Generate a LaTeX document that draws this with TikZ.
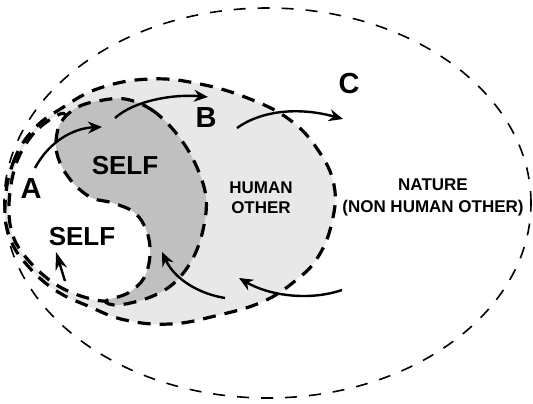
\documentclass[tikz,border=0pt]{standalone}
\usepackage{fontspec}
\setmainfont{Liberation Sans}
\usepackage{tikz}
\usetikzlibrary{arrows.meta, positioning}
\definecolor{selfgray}{RGB}{192, 192, 192}
\definecolor{othergray}{RGB}{232, 232, 232}

\begin{document}
\begin{tikzpicture}[x=1pt, y=-1pt,
    boundary/.style={line width=3.2pt, dash pattern=on 13pt off 9pt},
    naturebound/.style={line width=1.6pt, dash pattern=on 12pt off 12pt},
    arrow/.style={-{Stealth[length=14pt, width=12pt]}, line width=2.4pt},
    biglabel/.style={font=\bfseries\fontsize{29}{30}\selectfont, inner sep=0pt},
    selflabel/.style={font=\bfseries\fontsize{26}{28}\selectfont, inner sep=0pt},
    smalllabel/.style={font=\bfseries\fontsize{17}{20}\selectfont, align=center, inner sep=0pt}
]
    \useasboundingbox (0,0) rectangle (533,404);

    % Nature
    \draw[naturebound] (267.5,203) ellipse [x radius=263.5pt, y radius=195pt];

    % Human other
    \draw[boundary, fill=othergray] plot[smooth cycle, tension=0.7] coordinates {
        (5,205) (13,163) (33,130) (62,108) (100,88) (150,79) (200,84) (250,99)
        (290,120) (318,150) (334,185) (332,222) (318,257) (295,281) (262,302)
        (215,316) (170,324) (125,320) (88,306) (55,290) (27,265) (10,238)};

    % White area round the second self
    \draw[boundary, fill=white] plot[smooth cycle, tension=0.6] coordinates {
        (60,114) (34,133) (16,164) (9,204) (13,236) (29,261) (55,284) (84,297)
        (112,301) (140,291) (163,265) (170,235) (163,210) (140,196) (100,188)
        (78,168) (72,140) (68,120)};

    % Self
    \draw[boundary, fill=selfgray] plot[smooth cycle, tension=0.6] coordinates {
        (125,99) (152,110) (176,133) (195,163) (206,197) (203,230) (192,260)
        (173,284) (148,298) (118,305) (106,301) (128,293) (144,278) (150,255)
        (147,232) (135,213) (113,203) (92,198) (75,185) (62,167) (56,147)
        (60,124) (76,108) (98,101)};

    % Labels
    \node[biglabel] (A) at (31,189) {A};
    \node[biglabel] (B) at (206,117.5) {B};
    \node[biglabel] (C) at (349,84) {C};
    \node[selflabel] (self) at (125,166) {SELF};
    \node[selflabel] (otherself) at (82,237) {SELF};
    \node[smalllabel] (human) at (261,198) {HUMAN\\OTHER};
    \node[smalllabel, font=\bfseries\fontsize{17}{22}\selectfont] (nature) at (433,197)
        {NATURE\\(NON HUMAN OTHER)};

    % Arrow ends
    \coordinate (a out) at (35,168);
    \coordinate (a in) at (102,127);
    \coordinate (b out) at (115,118);
    \coordinate (b in) at (208,97);
    \coordinate (c out) at (237,128);
    \coordinate (c in) at (343,119);
    \coordinate (n out) at (342,290);
    \coordinate (n in) at (239,278);
    \coordinate (h out) at (225,298);
    \coordinate (h in) at (162,252);
    \coordinate (s out) at (65,281);
    \coordinate (s in) at (56,252);

    % Arrows
    \draw[arrow] (a out) .. controls (50,140) and (75,128) .. (a in);
    \draw[arrow] (b out) .. controls (135,100) and (175,94) .. (b in);
    \draw[arrow] (c out) .. controls (262,110) and (300,107) .. (c in);
    \draw[arrow] (n out) .. controls (310,301) and (270,296) .. (n in);
    \draw[arrow] (h out) .. controls (200,294) and (175,280) .. (h in);
    \draw[arrow, -{Stealth[length=18pt, width=12pt, inset=6pt]}] (s out) -- (s in);
\end{tikzpicture}
\end{document}
